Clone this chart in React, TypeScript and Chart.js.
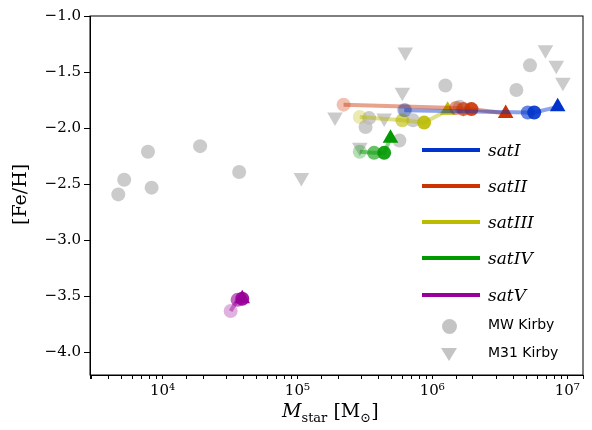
import { useEffect, useRef } from "react";
import Chart from "chart.js/auto";

const mwMass = [4.7e3, 5.2e3, 7.8e3, 8.3e3, 1.9e4, 3.7e4, 3.2e5, 3.4e5, 5.7e5, 6.3e5, 7.2e5, 1.25e6, 1.6e6, 4.2e6, 5.3e6];
const mwFeH = [-2.59, -2.46, -2.21, -2.53, -2.16, -2.39, -1.99, -1.91, -2.11, -1.84, -1.93, -1.62, -1.81, -1.66, -1.44];
const m31Mass = [1.07e5, 1.9e5, 2.9e5, 4.4e5, 6.0e5, 6.3e5, 1.7e6, 6.9e6, 8.3e6, 9.3e6];
const m31FeH = [-2.44, -1.90, -2.17, -1.91, -1.68, -1.32, -1.82, -1.30, -1.44, -1.59];

const satNames = ["satI", "satII", "satIII", "satIV", "satV"];
const satColors = ["0,51,204", "204,51,0", "187,187,0", "0,153,0", "153,0,153"];
const satMass = [
  [6.2e5, 5.1e6, 5.7e6, 8.5e6],
  [2.2e5, 1.5e6, 1.7e6, 1.95e6, 3.5e6],
  [2.9e5, 6.0e5, 8.7e5, 1.3e6],
  [2.9e5, 3.7e5, 4.4e5, 4.9e5],
  [3.2e4, 3.6e4, 3.9e4, 3.9e4],
];
const satFeH = [
  [-1.84, -1.86, -1.86, -1.81],
  [-1.79, -1.82, -1.83, -1.83, -1.87],
  [-1.90, -1.93, -1.95, -1.84],
  [-2.21, -2.22, -2.22, -2.09],
  [-3.63, -3.53, -3.52, -3.52],
];
const yTicks = [-1.0, -1.5, -2.0, -2.5, -3.0, -3.5, -4.0];

const sup: Record<string, string> = { "4": "⁴", "5": "⁵", "6": "⁶", "7": "⁷" };

export default function App() {
  const ref = useRef<HTMLCanvasElement>(null);

  useEffect(() => {
    const pts = (xs: number[], ys: number[]) => xs.map((x, i) => ({ x, y: ys[i] }));
    const satSets = satNames.map((name, s) => {
      const n = satMass[s].length;
      const c = satColors[s];
      const alpha = (i: number) => (i === n - 1 ? 1 : 0.3 + 0.6 * (i / Math.max(1, n - 2)));
      return {
        label: name,
        type: "line" as const,
        data: pts(satMass[s], satFeH[s]),
        borderColor: `rgba(${c},0.45)`,
        borderWidth: 4,
        pointStyle: satMass[s].map((_, i) => (i === n - 1 ? "triangle" : "circle")),
        pointRadius: satMass[s].map((_, i) => (i === n - 1 ? 9 : 7)),
        pointBackgroundColor: satMass[s].map((_, i) => `rgba(${c},${alpha(i)})`),
        pointBorderWidth: 0,
        order: 0,
      };
    });
    const chart = new Chart(ref.current!, {
      type: "scatter",
      data: {
        datasets: [
          {
            label: "MW Kirby",
            data: pts(mwMass, mwFeH),
            backgroundColor: "rgba(190,190,190,0.8)",
            pointRadius: 7,
            pointBorderWidth: 0,
            order: 2,
          },
          {
            label: "M31 Kirby",
            data: pts(m31Mass, m31FeH),
            backgroundColor: "rgba(190,190,190,0.8)",
            pointStyle: "triangle",
            rotation: 180,
            pointRadius: 9,
            pointBorderWidth: 0,
            order: 2,
          },
          ...satSets,
        ] as any,
      },
      options: {
        animation: false,
        responsive: false,
        layout: { padding: { top: 16, right: 5, left: 0, bottom: 0 } },
        plugins: { legend: { display: false }, tooltip: { enabled: false } },
        scales: {
          x: {
            type: "logarithmic",
            min: 2900,
            max: 1.31e7,
            border: { display: true, color: "#000", width: 1 },
            grid: { drawOnChartArea: false, color: "#000", tickLength: 4 },
            ticks: {
              color: "#000",
              font: { family: "DejaVu Serif", size: 15 },
              autoSkip: false,
              maxRotation: 0,
              callback: (v: any) => {
                const l = Math.log10(Number(v));
                return Math.abs(l - Math.round(l)) < 1e-6 ? "10" + sup[String(Math.round(l))] : "";
              },
            },
            afterFit: (s: any) => { s.height = 55; },
          },
          y: {
            min: -4.2,
            max: -1.0,
            border: { display: true, color: "#000", width: 1 },
            grid: { drawOnChartArea: false, color: "#000", tickLength: 6 },
            afterBuildTicks: (s: any) => { s.ticks = yTicks.map((v) => ({ value: v })); },
            ticks: {
              color: "#000",
              font: { family: "DejaVu Serif", size: 15 },
              callback: (v: any) => (Number(v) < 0 ? "−" : "") + Math.abs(Number(v)).toFixed(1),
            },
            afterFit: (s: any) => { s.width = 90; },
          },
        },
      },
      plugins: [
        {
          id: "frame",
          afterDraw(c: any) {
            const { ctx, chartArea: a } = c;
            ctx.save();
            ctx.strokeStyle = "#000";
            ctx.lineWidth = 1;
            ctx.strokeRect(a.left, a.top, a.right - a.left, a.bottom - a.top);
            ctx.restore();
          },
        },
      ],
    });
    return () => chart.destroy();
  }, []);

  const rowY = [150, 186, 222, 258, 295];
  return (
    <div style={{ position: "relative", width: 592, height: 430, margin: -8, fontFamily: "DejaVu Serif" }}>
      <canvas ref={ref} width={592} height={430} />
      {satNames.map((n, i) => (
        <div key={n} style={{ position: "absolute", left: 422, top: rowY[i] - 12, display: "flex", alignItems: "center", height: 24 }}>
          <div style={{ width: 58, height: 4, background: `rgb(${satColors[i]})` }} />
          <span style={{ marginLeft: 8, fontStyle: "italic", fontSize: 17 }}>{n}</span>
        </div>
      ))}
      <div style={{ position: "absolute", left: 442, top: 319, width: 15, height: 15, borderRadius: 8, background: "rgba(190,190,190,0.9)" }} />
      <span style={{ position: "absolute", left: 488, top: 316, fontFamily: "DejaVu Sans", fontSize: 14 }}>MW Kirby</span>
      <div style={{ position: "absolute", left: 441, top: 348, width: 0, height: 0, borderLeft: "8px solid transparent", borderRight: "8px solid transparent", borderTop: "13px solid rgba(190,190,190,0.9)" }} />
      <span style={{ position: "absolute", left: 488, top: 344, fontFamily: "DejaVu Sans", fontSize: 14 }}>M31 Kirby</span>
      <div style={{ position: "absolute", left: 8, top: 225, transform: "rotate(-90deg)", transformOrigin: "left top", fontSize: 19, whiteSpace: "nowrap" }}>[Fe/H]</div>
      <div style={{ position: "absolute", left: 282, top: 399, fontSize: 19, whiteSpace: "nowrap" }}>
        <i>M</i><sub style={{ fontSize: 13 }}>star</sub> [M<sub style={{ fontSize: 13 }}>⊙</sub>]
      </div>
    </div>
  );
}
